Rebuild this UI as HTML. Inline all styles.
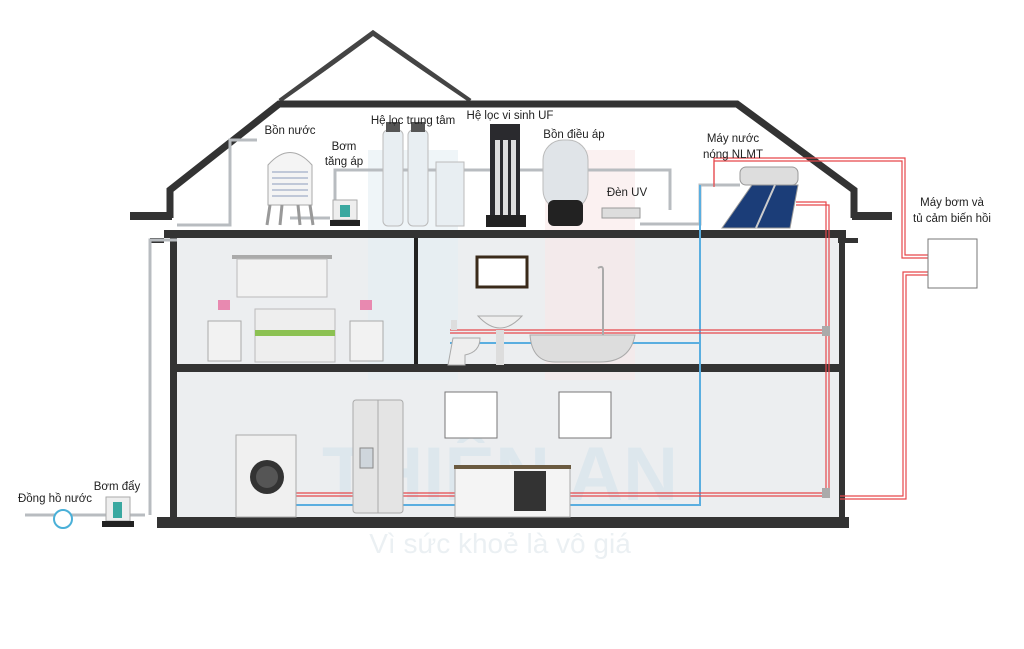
<!DOCTYPE html>
<html><head><meta charset="utf-8"><style>
html,body{margin:0;padding:0;background:#fff;}
svg{display:block}
text{font-family:"Liberation Sans",sans-serif;fill:#222;}
</style></head><body>
<svg width="1024" height="649" viewBox="0 0 1024 649" xmlns="http://www.w3.org/2000/svg">
<!-- gable -->
<polyline points="280,101 373,33 470,101" fill="none" stroke="#444" stroke-width="5"/>
<polyline points="284,101 373,38 466,101" fill="none" stroke="#fff" stroke-width="1.5"/>
<!-- interior backgrounds -->
<rect x="176" y="238" width="664" height="280" fill="#eceef0"/>
<polygon points="172,192 280,106 736,106 852,192 852,232 172,232" fill="#fff"/>
<!-- watermark -->
<rect x="368" y="150" width="90" height="230" fill="#e4eef3" opacity="0.6"/>
<rect x="545" y="150" width="90" height="230" fill="#f8e8e8" opacity="0.6"/>
<!-- roof -->
<polyline points="170,218 170,190 279,104 737,104 854,190 854,218" fill="none" stroke="#333" stroke-width="7"/>
<!-- eaves -->
<rect x="130" y="212" width="42" height="8" fill="#333"/>
<rect x="852" y="212" width="40" height="8" fill="#333"/>
<!-- attic floor -->
<rect x="164" y="230" width="682" height="8" fill="#333"/>
<rect x="838" y="238" width="20" height="5" fill="#333"/>
<rect x="150" y="238" width="14" height="5" fill="#333"/>
<!-- walls -->
<rect x="170" y="230" width="7" height="290" fill="#333"/>
<rect x="839" y="230" width="6" height="290" fill="#333"/>
<rect x="414" y="238" width="4" height="128" fill="#222"/>
<!-- 2nd floor -->
<rect x="176" y="364" width="664" height="8" fill="#333"/>
<!-- ground slab -->
<rect x="157" y="517" width="692" height="11" fill="#333"/>

<text x="500" y="500" font-size="76" font-weight="bold" text-anchor="middle" style="fill:#dde7ed">THIÊN AN</text>
<text x="500" y="553" font-size="28" text-anchor="middle" style="fill:#ebf0f3">Vì sức khoẻ là vô giá</text>

<!-- grey pipes attic -->
<g fill="none" stroke="#b8bcc0" stroke-width="3">
<polyline points="177,225 230,225 230,140 257,140"/>
<polyline points="150,515 150,240 177,240"/>
<polyline points="290,218 330,218"/>
<polyline points="335,205 335,170 440,170 660,170 670,170 670,210"/>
<polyline points="640,224 700,224 700,185 740,185"/>
<polyline points="25,515 145,515"/>
</g>
<!-- blue pipe -->
<g fill="none" stroke="#5aaee0" stroke-width="2">
<polyline points="700,185 700,505 296,505"/>
<polyline points="700,343 450,343"/>
</g>
<!-- red pipes -->
<g fill="none" stroke="#e6474b" stroke-width="1.2">
<polyline points="714,184 714,158 905,158 905,255 928,255"/>
<polyline points="714,187 714,161 902,161 902,258 928,258"/>
<polyline points="928,272 903,272 903,496 840,496"/>
<polyline points="928,275 906,275 906,499 840,499"/>
<polyline points="796,202 826,202 826,495"/>
<polyline points="796,205 829,205 829,495"/>
<polyline points="826,330 450,330"/>
<polyline points="826,333 450,333"/>
<polyline points="826,493 296,493"/>
<polyline points="826,496 296,496"/>
</g>
<rect x="822" y="326" width="8" height="10" fill="#aaa"/>
<rect x="822" y="488" width="8" height="10" fill="#aaa"/>

<!-- right box -->
<rect x="928" y="239" width="49" height="49" fill="#fff" stroke="#777" stroke-width="1"/>
<text x="952" y="206" font-size="11.5" text-anchor="middle">Máy bơm và</text>
<text x="952" y="222" font-size="11.5" text-anchor="middle">tủ cảm biến hồi</text>

<!-- tank -->
<path d="M268,165 Q290,140 312,165 L312,205 L268,205 Z" fill="#f4f4f4" stroke="#aaa"/>
<g stroke="#6a7ea8" stroke-width="0.8" fill="none">
<path d="M272,172h36M272,178h36M272,184h36M272,190h36M272,196h36"/></g>
<path d="M270,205 l-3,20 M282,205 l-2,20 M298,205 l2,20 M310,205 l3,20" stroke="#999" stroke-width="3"/>
<!-- booster pump -->
<rect x="333" y="200" width="24" height="20" fill="#eee" stroke="#aaa"/>
<rect x="340" y="205" width="10" height="12" fill="#3aa8a0"/>
<rect x="330" y="220" width="30" height="6" fill="#222"/>
<!-- filters -->
<rect x="383" y="130" width="20" height="96" rx="5" fill="#e8eef2" stroke="#bbb"/>
<rect x="408" y="130" width="20" height="96" rx="5" fill="#e8eef2" stroke="#bbb"/>
<rect x="386" y="122" width="14" height="10" fill="#555"/>
<rect x="411" y="122" width="14" height="10" fill="#555"/>
<rect x="436" y="162" width="28" height="64" fill="#e8eef2" stroke="#bbb"/>
<!-- UF -->
<rect x="490" y="124" width="30" height="100" fill="#2a2a2e"/>
<rect x="495" y="140" width="5" height="75" fill="#ddd"/><rect x="503" y="140" width="5" height="75" fill="#ddd"/><rect x="511" y="140" width="5" height="75" fill="#ddd"/>
<rect x="486" y="215" width="40" height="12" fill="#222"/>
<!-- pressure tank -->
<rect x="543" y="140" width="45" height="70" rx="20" fill="#e0e4e8" stroke="#bbb"/>
<rect x="548" y="200" width="35" height="26" rx="6" fill="#222"/>
<!-- UV -->
<rect x="602" y="208" width="38" height="10" fill="#ddd" stroke="#999"/>
<!-- solar -->
<rect x="740" y="167" width="58" height="18" rx="6" fill="#ddd" stroke="#999"/>
<polygon points="722,228 752,185 798,185 790,228" fill="#1b3d78" stroke="#999"/>
<line x1="756" y1="228" x2="775" y2="185" stroke="#ccc" stroke-width="2"/>

<!-- labels attic -->
<text x="290" y="134" font-size="11.5" text-anchor="middle">Bồn nước</text>
<text x="344" y="150" font-size="11.5" text-anchor="middle">Bơm</text>
<text x="344" y="165" font-size="11.5" text-anchor="middle">tăng áp</text>
<text x="413" y="124" font-size="11.5" text-anchor="middle">Hệ lọc trung tâm</text>
<text x="510" y="119" font-size="11.5" text-anchor="middle">Hệ lọc vi sinh UF</text>
<text x="574" y="138" font-size="11.5" text-anchor="middle">Bồn điều áp</text>
<text x="627" y="196" font-size="11.5" text-anchor="middle">Đèn UV</text>
<text x="733" y="142" font-size="11.5" text-anchor="middle">Máy nước</text>
<text x="733" y="158" font-size="11.5" text-anchor="middle">nóng NLMT</text>

<!-- bedroom -->
<rect x="232" y="255" width="100" height="4" fill="#aaa"/>
<rect x="237" y="259" width="90" height="38" fill="#f2f2f2" stroke="#bbb"/>
<rect x="255" y="309" width="80" height="53" fill="#eee" stroke="#bbb"/>
<rect x="255" y="330" width="80" height="6" fill="#8cc152"/>
<rect x="208" y="321" width="33" height="40" fill="#f2f2f2" stroke="#aaa"/>
<rect x="350" y="321" width="33" height="40" fill="#f2f2f2" stroke="#aaa"/>
<rect x="218" y="300" width="12" height="10" fill="#e889b0"/><rect x="360" y="300" width="12" height="10" fill="#e889b0"/>
<!-- bathroom -->
<rect x="477" y="257" width="50" height="30" fill="#fff" stroke="#3a2a1a" stroke-width="3"/>
<path d="M478,316 Q500,340 522,316 Z" fill="#eee" stroke="#aaa"/>
<rect x="496" y="330" width="8" height="35" fill="#ddd"/>
<path d="M530,335 L635,335 Q630,362 600,362 L555,362 Q532,362 530,335 Z" fill="#ddd" stroke="#aaa"/>
<rect x="451" y="320" width="6" height="10" fill="#ddd"/>
<path d="M453,338 L480,338 Q480,352 465,355 L465,365 L448,365 Z" fill="#eee" stroke="#aaa"/>
<path d="M603,335 L603,270 Q603,265 598,268" fill="none" stroke="#aaa" stroke-width="2"/>
<!-- kitchen -->
<rect x="445" y="392" width="52" height="46" fill="#fff" stroke="#777"/>
<rect x="559" y="392" width="52" height="46" fill="#fff" stroke="#777"/>
<rect x="455" y="467" width="115" height="50" fill="#f4f4f4" stroke="#aaa"/>
<rect x="454" y="465" width="117" height="4" fill="#6a5a40"/>
<rect x="514" y="471" width="32" height="40" fill="#333"/>
<rect x="353" y="400" width="50" height="113" rx="3" fill="#e4e4e4" stroke="#aaa"/>
<line x1="378" y1="400" x2="378" y2="513" stroke="#aaa"/>
<rect x="360" y="448" width="13" height="20" fill="#cfd6dc" stroke="#888"/>
<rect x="236" y="435" width="60" height="82" fill="#f0f0f0" stroke="#aaa"/>
<circle cx="267" cy="477" r="17" fill="#333"/><circle cx="267" cy="477" r="11" fill="#555"/>

<!-- bottom left -->
<text x="55" y="502" font-size="11.5" text-anchor="middle">Đồng hồ nước</text>
<text x="117" y="490" font-size="11.5" text-anchor="middle">Bơm đẩy</text>
<circle cx="63" cy="519" r="9" fill="#fff" stroke="#4ab0d8" stroke-width="2"/>
<rect x="106" y="497" width="24" height="24" fill="#eee" stroke="#aaa"/>
<rect x="113" y="502" width="9" height="16" fill="#3aa8a0"/>
<rect x="102" y="521" width="32" height="6" fill="#222"/>
</svg>
</body></html>
